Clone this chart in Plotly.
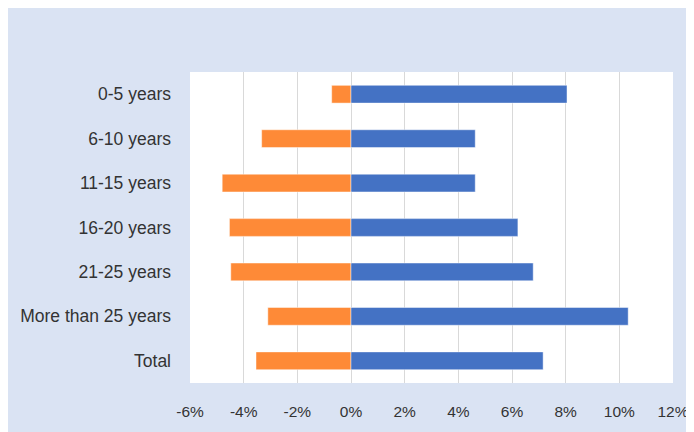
import plotly.graph_objects as go

categories = ["0-5 years", "6-10 years", "11-15 years", "16-20 years",
              "21-25 years", "More than 25 years", "Total"]
positive = [8.05, 4.63, 4.63, 6.22, 6.79, 10.33, 7.16]
negative = [-0.72, -3.33, -4.80, -4.53, -4.48, -3.10, -3.54]
tick_vals = [-6, -4, -2, 0, 2, 4, 6, 8, 10, 12]
tick_text = [f"{v}%" for v in tick_vals]

bg = "#DAE3F3"
font_name = "Liberation Sans, Arial, sans-serif"

fig = go.Figure()
fig.add_trace(go.Bar(
    y=categories, x=negative, orientation="h", width=0.4,
    marker=dict(color="#FE8A37", line=dict(color="rgba(255,255,255,0.45)", width=1)),
    showlegend=False,
))
fig.add_trace(go.Bar(
    y=categories, x=positive, orientation="h", width=0.4,
    marker=dict(color="#4472C4", line=dict(color="rgba(255,255,255,0.45)", width=1)),
    showlegend=False,
))

# the page's own 8px body margin gives the thin white strip on the top and left
fig.update_layout(
    width=694, height=432,
    margin=dict(l=180, r=29, t=64, b=57),
    paper_bgcolor=bg, plot_bgcolor="white",
    barmode="relative",
    font=dict(family=font_name, color="#333333"),
)
fig.update_xaxes(
    range=[-6, 12], tickmode="array", tickvals=tick_vals, ticktext=tick_text,
    showgrid=True, gridcolor="#D9D9D9", gridwidth=1,
    zeroline=True, zerolinecolor="#D9D9D9", zerolinewidth=1,
    showline=False, ticks="", ticklabelstandoff=17,
    tickfont=dict(size=15.5, family=font_name, color="#333333"),
    fixedrange=True,
)
fig.update_yaxes(
    autorange="reversed", showgrid=False, showline=False, ticks="",
    ticklabelstandoff=18,
    tickfont=dict(size=17.5, family=font_name, color="#333333"),
    fixedrange=True,
)

fig.write_html("out.html", config={"displayModeBar": False})
